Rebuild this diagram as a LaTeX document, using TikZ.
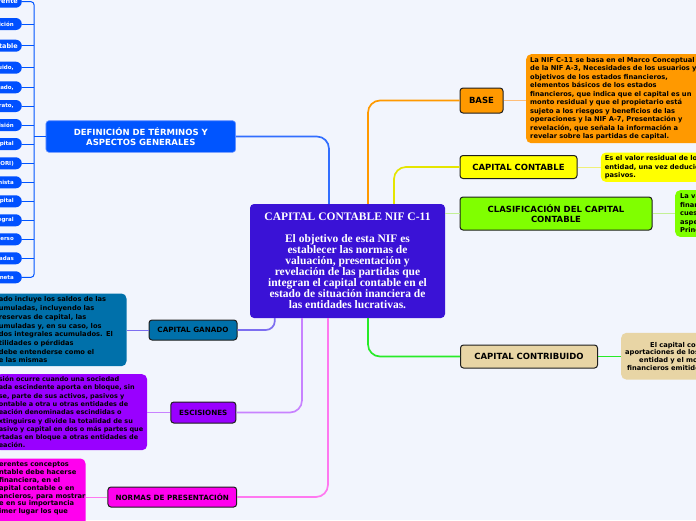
\documentclass[tikz,border=0pt]{standalone}
\usepackage{fontspec}
\setmainfont{DejaVu Sans}
\newfontfamily\ctrfont{Liberation Serif}
\usetikzlibrary{calc}
\definecolor{bgc}{RGB}{242,245,253}
\definecolor{ctrc}{RGB}{58,18,214}
\definecolor{defc}{RGB}{0,85,255}
\definecolor{defb}{RGB}{110,150,255}
\definecolor{pillc}{RGB}{0,80,255}
\definecolor{orc}{RGB}{255,153,0}
\definecolor{orl}{RGB}{255,190,120}
\definecolor{yelc}{RGB}{255,255,0}
\definecolor{yell}{RGB}{240,240,120}
\definecolor{grc}{RGB}{128,255,0}
\definecolor{grl}{RGB}{195,240,150}
\definecolor{grn}{RGB}{40,235,40}
\definecolor{tanc}{RGB}{232,213,165}
\definecolor{ganc}{RGB}{0,112,170}
\definecolor{ganl}{RGB}{125,110,240}
\definecolor{escc}{RGB}{153,0,255}
\definecolor{escl}{RGB}{200,130,255}
\definecolor{norc}{RGB}{255,0,238}
\definecolor{norl}{RGB}{255,120,240}
\definecolor{bluel}{RGB}{50,110,255}
\definecolor{edge}{RGB}{30,30,30}
\tikzset{
  branch/.style={draw=edge, line width=1pt, rounded corners=3pt, align=center, inner sep=0pt,
     font=\bfseries\fontsize{8.5}{10.5}\selectfont},
  lbranch/.style={branch, font=\bfseries\fontsize{7.2}{9}\selectfont},
  desc/.style={rounded corners=5pt, inner ysep=2pt, align=left,
     font=\bfseries\fontsize{6.7}{8.5}\selectfont},
  pill/.style={fill=pillc, rounded corners=6pt, minimum height=12pt, text width=30pt,
     align=right, inner xsep=8pt, inner ysep=0pt, anchor=east, text=white,
     font=\bfseries\fontsize{5.5}{6}\selectfont},
  pillb/.style={pill, font=\bfseries\fontsize{6.5}{7}\selectfont, inner xsep=4pt},
  mainc/.style={line width=1.7pt, rounded corners=12pt},
  subc/.style={line width=1pt},
}
\begin{document}
\begin{tikzpicture}[x=1pt,y=-1pt]
\useasboundingbox (0,0) rectangle (696,520);
\fill[bgc] (0,0) rectangle (696,520);
\begin{scope}
\clip (0,0) rectangle (696,520);

% central node
\node[fill=ctrc, rounded corners=4pt, minimum width=195pt, minimum height=114pt, inner sep=0pt,
  text=white, align=center, font=\ctrfont\bfseries\fontsize{11.5}{11}\selectfont]
  (ctr) at (347.5,261) {CAPITAL CONTABLE NIF C-11\\[11pt]El objetivo de esta NIF es\\establecer las normas de\\valuación, presentación y\\revelación de las partidas que\\integran el capital contable en el\\estado de situación inanciera de\\las entidades lucrativas.};

% anchor points on the central node
\coordinate (tB) at ($(ctr.north west)!0.405!(ctr.north east)$);
\coordinate (tO) at ($(ctr.north west)!0.605!(ctr.north east)$);
\coordinate (tY) at ($(ctr.north west)!0.738!(ctr.north east)$);
\coordinate (bG) at ($(ctr.south west)!0.128!(ctr.south east)$);
\coordinate (bE) at ($(ctr.south west)!0.267!(ctr.south east)$);
\coordinate (bN) at ($(ctr.south west)!0.400!(ctr.south east)$);
\coordinate (bC) at ($(ctr.south west)!0.605!(ctr.south east)$);

% branch nodes
\node[fill=defc, draw=defb, line width=0.6pt, rounded corners=3pt, minimum width=189.7pt, minimum height=31.6pt,
  inner sep=0pt, align=center, text=white, font=\bfseries\fontsize{8.5}{10.5}\selectfont]
  (def) at (140.8,136.5) {DEFINICIÓN DE TÉRMINOS Y\\ASPECTOS GENERALES};
\node[branch, fill=orc, minimum width=43pt, minimum height=25pt] (base) at (481.5,100.5) {BASE};
\node[branch, fill=yelc, minimum width=117pt, minimum height=23pt] (cc) at (518.5,167) {CAPITAL CONTABLE};
\node[branch, fill=grc, minimum width=192pt, minimum height=33pt] (cls) at (556,213.5) {CLASIFICACIÓN DEL CAPITAL\\CONTABLE};
\node[branch, fill=tanc, minimum width=137pt, minimum height=23pt] (con) at (529,356.5) {CAPITAL CONTRIBUIDO};
\node[lbranch, fill=ganc, minimum width=88pt, minimum height=20pt] (gan) at (193,330) {CAPITAL GANADO};
\node[lbranch, fill=escc, minimum width=65pt, minimum height=21pt] (esc) at (203.3,412.5) {ESCISIONES};
\node[lbranch, fill=norc, minimum width=128.7pt, minimum height=20pt] (nor) at (172.3,497) {NORMAS DE PRESENTACIÓN};

% description boxes (right)
\node[desc, fill=orc, anchor=north west, minimum height=89pt, text width=194pt, inner xsep=4pt] (bd) at (526,54)
 {La NIF C-11 se basa en el Marco Conceptual\\de la NIF A-3, Necesidades de los usuarios y\\objetivos de los estados financieros,\\elementos básicos de los estados\\financieros, que indica que el capital es un\\monto residual y que el propietario está\\sujeto a los riesgos y beneficios de las\\operaciones y la NIF A-7, Presentación y\\revelación, que señala la información a\\revelar sobre las partidas de capital.};
\node[desc, fill=yelc, anchor=north west, minimum height=29.4pt, text width=150pt, inner xsep=4pt] (cd) at (600.7,152.3)
 {Es el valor residual de los activos\\entidad, una vez deducidos\\pasivos.};
\node[desc, fill=grc, anchor=north west, minimum height=46.7pt, text width=80pt, inner xsep=5pt] (gd) at (675,190)
 {La va\\finan\\cuest\\aspec\\Princ};
\node[desc, fill=tanc, anchor=north west, minimum height=46.6pt, text width=150pt, inner xsep=3pt,
  font=\bfseries\fontsize{6.7}{7.7}\selectfont] (nd0) at (621,332.7)
 {\hspace*{26pt}El capital contribu\\\hspace*{1pt}aportaciones de los\\\hspace*{15pt}entidad y el mon\\\hspace*{3pt}financieros emitidos\\[5pt]};

% description boxes (left)
\node[desc, fill=ganc, anchor=north east, minimum height=72.7pt, text width=124.7pt, inner xsep=3pt,
  font=\bfseries\fontsize{6.7}{8.7}\selectfont] (gand) at (126.7,293.3)
 {ado incluye los saldos de las\\umuladas, incluyendo las\\reservas de capital, las\\umuladas y, en su caso, los\\dos integrales acumulados. El\\tilidades o pérdidas\\debe entenderse como el\\e las mismas};
\node[desc, fill=escc, anchor=north east, minimum height=76pt, text width=145.3pt, inner xsep=3pt,
  font=\bfseries\fontsize{6.5}{8.3}\selectfont] (escd) at (147.3,374)
 {\mbox{sión ocurre cuando una sociedad}\\\mbox{ada escindente aporta en bloque, sin}\\\mbox{se, parte de sus activos, pasivos y}\\\mbox{ontable a otra u otras entidades de}\\\mbox{eación denominadas escindidas o}\\\mbox{xtinguirse y divide la totalidad de su}\\\mbox{asivo y capital en dos o más partes que}\\\mbox{rtadas en bloque a otras entidades de}\\\mbox{eación.}};
\node[fill=norc, rounded corners=5pt, anchor=north east, minimum width=95pt, minimum height=80pt, inner sep=0pt]
  (nord) at (85.7,458.3) {};
\node[anchor=north west, inner sep=0pt, align=left, font=\bfseries\fontsize{6.7}{7.9}\selectfont]
  (nordt) at (-1,461.5)
 {erentes conceptos\\ntable debe hacerse\\financiera, en el\\apital contable o en\\ancieros, para mostrar\\e en su importancia\\imer lugar los que};

% pills of the definitions list
\node[pillb] (p1) at (22,1.7) {arente};
\node[pill] (p2) at (22,24) {ición};
\node[pillb] (p3) at (22,45.7) {ntable};
\node[pill] (p4) at (22,67.7) {uido,};
\node[pill] (p5) at (22,87.3) {ado,};
\node[pill] (p6) at (22,106) {rato,};
\node[pill] (p7) at (22,125) {isión};
\node[pill] (p8) at (22,144) {pital};
\node[pill] (p9) at (22,163.3) {ORI)};
\node[pill] (p10) at (22,182.3) {nista};
\node[pill] (p11) at (22,201.3) {pital};
\node[pill] (p12) at (22,220.3) {egral};
\node[pill] (p13) at (22,239.3) {erso};
\node[pill] (p14) at (22,258.3) {adas};
\node[pill] (p15) at (22,277.3) {neta};

% bracket of the list
\coordinate (brk) at (34,136.5);
\draw[defc, line width=1pt, rounded corners=3pt] (p1.east) -| (brk) |- (p15.east);
\foreach \i in {2,...,14} { \draw[defc, line width=1pt] (p\i.east) -- (p\i.east -| brk); }
\draw[defc, line width=1.3pt] (def.west) -- (brk);

% main connectors
\draw[mainc, bluel] (tB) |- (def.east);
\draw[mainc, orc] (tO) |- (base.west);
\draw[mainc, yelc!90!black] (tY) |- (cc.west);
\draw[mainc, grl] (cls.west -| ctr.east) -- (cls.west);
\draw[mainc, grn] (bC) |- (con.west);
\draw[mainc, ganl, rounded corners=9pt] (bG) |- (gan.east);
\draw[mainc, escl] (bE) |- (esc.east);
\draw[mainc, norl] (bN) |- (nor.east);

% sub connectors
\draw[subc, orl] (base.east) -- (base.east -| bd.west);
\draw[subc, yell] (cc.east) -- (cc.east -| cd.west);
\draw[subc, grl] (cls.east) -- (cls.east -| gd.west);
\draw[subc, grn] (con.east) -- (con.east -| nd0.west);
\draw[subc, ganl] (gan.west) -- (gan.west -| gand.east);
\draw[subc, escl] (esc.west) -- (esc.west -| escd.east);
\draw[subc, norl] (nor.west) -- (nor.west -| nord.east);
\end{scope}
\end{tikzpicture}
\end{document}
